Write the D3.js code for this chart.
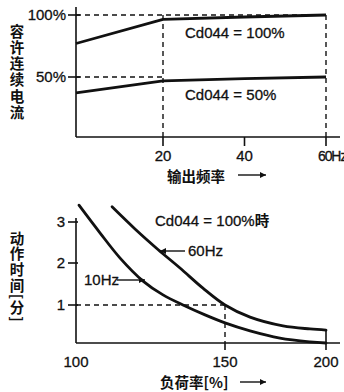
<!DOCTYPE html>
<html><head><meta charset="utf-8">
<script src="https://cdn.jsdelivr.net/npm/d3@7"></script>
<style>
body{margin:0;background:#fff;}
svg{display:block;}
text{fill:#111;}
.lat{font-family:"Liberation Sans",Arial,sans-serif;font-size:15px;stroke:#111;stroke-width:0.3px;}
.cjk{font-family:"Noto Sans CJK SC",sans-serif;font-size:14.5px;font-weight:bold;}
.vert{writing-mode:vertical-rl;}
</style></head><body>
<script>
// ---- Top chart data ----
const freqTicks = [20, 40, 60];
const freqUnit = "Hz";
const pctTicks = [50, 100];
const pctLabels = ["50%", "100%"];
const freq = [0, 20, 40, 60];
const allow100 = [77, 96.5, 98.4, 100];
const allow50 = [36.7, 46.7, 48.6, 50];
const topTitleY = "容许连续电流";
const topTitleX = "输出频率";
const label100 = "Cd044 = 100%";
const label50 = "Cd044 = 50%";

// ---- Bottom chart data ----
const loadTicks = [100, 150, 200];
const timeTicks = [1, 2, 3];
const load10 = [101.0, 108.1, 114.8, 122.5, 129.2, 135.9, 143.3, 150, 162.4, 177.2, 192.1, 200];
const time10 = [3.41, 2.73, 2.12, 1.57, 1.24, 1.0, 0.74, 0.53, 0.32, 0.13, 0.03, 0];
const load60 = [112.1, 119.8, 127.5, 134.9, 142.6, 150, 162.4, 178.7, 192.1, 200];
const time60 = [3.37, 2.83, 2.33, 1.88, 1.40, 1.0, 0.68, 0.45, 0.37, 0.34];
const botTitleY = "动作时间[分]";
const botTitleX = "负荷率[%]";
const labelBot = "Cd044 = 100%";
const labelBotSuffix = "時";
const label60 = "60Hz";
const label10 = "10Hz";

const svg = d3.select("body").append("svg").attr("width", 344).attr("height", 392);
const defs = svg.append("defs");
defs.append("marker").attr("id","ah").attr("viewBox","0 0 10 10").attr("refX",10).attr("refY",5)
  .attr("markerWidth",7).attr("markerHeight",6).attr("markerUnits","userSpaceOnUse").attr("orient","auto")
  .append("path").attr("d","M0,0L10,5L0,10Z").attr("fill","#111");

function arrow(g, x1, y1, x2, y2){
  g.append("line").attr("x1",x1).attr("y1",y1).attr("x2",x2).attr("y2",y2)
    .attr("stroke","#111").attr("stroke-width",1.4).attr("marker-end","url(#ah)");
}
const dash = "5,4";

// ================= TOP CHART =================
const xT = d3.scaleLinear().domain([0, 20, 60]).range([76, 163, 326]);
const yT = d3.scaleLinear().domain([0, 50, 100]).range([137, 77, 15]);
const gT = svg.append("g");

gT.append("line").attr("x1", xT(0)).attr("x2", xT(60)).attr("y1", yT(100)).attr("y2", yT(100))
  .attr("stroke","#111").attr("stroke-width",1.4).attr("stroke-dasharray",dash);
gT.append("line").attr("x1", xT(0)).attr("x2", xT(20)).attr("y1", yT(50)).attr("y2", yT(50))
  .attr("stroke","#111").attr("stroke-width",1.4).attr("stroke-dasharray",dash);
[20, 60].forEach(f => {
  gT.append("line").attr("x1", xT(f)).attr("x2", xT(f)).attr("y1", yT(100)).attr("y2", yT(0))
    .attr("stroke","#111").attr("stroke-width",1.4).attr("stroke-dasharray",dash);
});

gT.append("line").attr("x1", xT(0)).attr("x2", xT(0)).attr("y1", 7).attr("y2", yT(0)).attr("stroke","#111").attr("stroke-width",1.6);
gT.append("line").attr("x1", xT(0)).attr("x2", 340).attr("y1", yT(0)).attr("y2", yT(0)).attr("stroke","#111").attr("stroke-width",1.6);
freqTicks.forEach(f => {
  gT.append("line").attr("x1", xT(f)).attr("x2", xT(f)).attr("y1", yT(0)).attr("y2", yT(0)+9).attr("stroke","#111").attr("stroke-width",1.6);
});
pctTicks.forEach(p => {
  gT.append("line").attr("x1", xT(0)-8).attr("x2", xT(0)+4).attr("y1", yT(p)).attr("y2", yT(p)).attr("stroke","#111").attr("stroke-width",1.6);
});
pctTicks.forEach((p,i) => {
  gT.append("text").attr("class","lat").attr("x", 66).attr("y", yT(p)).attr("dy","0.36em")
    .attr("text-anchor","end").text(pctLabels[i]);
});
freqTicks.forEach((f,i) => {
  if (i < freqTicks.length - 1) {
    gT.append("text").attr("class","lat").attr("x", xT(f)).attr("y", 161).attr("text-anchor","middle").text(f);
  } else {
    gT.append("text").attr("class","lat").attr("x", xT(f) - 8).attr("y", 161)
      .style("letter-spacing","-1.1px").style("font-size","14px").text(f + freqUnit);
  }
});

const lineT = d3.line().x(d => xT(d[0])).y(d => yT(d[1]));
[allow100, allow50].forEach(vals => {
  gT.append("path").attr("d", lineT(freq.map((f,i)=>[f, vals[i]])))
    .attr("fill","none").attr("stroke","#111").attr("stroke-width",2.8).attr("stroke-linejoin","round");
});
gT.append("text").attr("class","lat").attr("x",185).attr("y",38).text(label100);
gT.append("text").attr("class","lat").attr("x",185).attr("y",100).text(label50);

gT.append("text").attr("class","cjk vert").attr("x", 17).attr("y", 24)
  .style("letter-spacing","1.7px").text(topTitleY);
gT.append("text").attr("class","cjk").attr("x",167).attr("y",176).attr("dy","0.38em").text(topTitleX);
arrow(gT, 238, 175, 266, 175);

// ================= BOTTOM CHART =================
const xB = d3.scaleLinear().domain([100, 150, 200]).range([76, 225, 326]);
const yB = d3.scaleLinear().domain([0, 1, 2, 3]).range([343, 305, 263, 222]);
const gB = svg.append("g");

gB.append("line").attr("x1", xB(100)).attr("x2", xB(150)).attr("y1", yB(1)).attr("y2", yB(1))
  .attr("stroke","#111").attr("stroke-width",1.4).attr("stroke-dasharray",dash);
gB.append("line").attr("x1", xB(150)).attr("x2", xB(150)).attr("y1", yB(1)).attr("y2", yB(0))
  .attr("stroke","#111").attr("stroke-width",1.4).attr("stroke-dasharray",dash);

gB.append("line").attr("x1", xB(100)).attr("x2", xB(100)).attr("y1", 218).attr("y2", yB(0)).attr("stroke","#111").attr("stroke-width",1.6);
gB.append("line").attr("x1", xB(100)).attr("x2", 340).attr("y1", yB(0)).attr("y2", yB(0)).attr("stroke","#111").attr("stroke-width",1.6);
loadTicks.slice(1).forEach(l => {
  gB.append("line").attr("x1", xB(l)).attr("x2", xB(l)).attr("y1", yB(0)).attr("y2", yB(0)+7).attr("stroke","#111").attr("stroke-width",1.6);
});
timeTicks.forEach(t => {
  gB.append("line").attr("x1", xB(100)-8).attr("x2", xB(100)+2).attr("y1", yB(t)).attr("y2", yB(t)).attr("stroke","#111").attr("stroke-width",1.6);
  gB.append("text").attr("class","lat").attr("x", 65).attr("y", yB(t)).attr("dy","0.36em").attr("text-anchor","end").text(t);
});
loadTicks.forEach(l => {
  gB.append("text").attr("class","lat").attr("x", xB(l)).attr("y", 367).attr("text-anchor","middle").text(l);
});

const lineB = d3.line().x(d => xB(d[0])).y(d => yB(d[1])).curve(d3.curveCatmullRom.alpha(0.5));
gB.append("path").attr("d", lineB(load10.map((l,i)=>[l, time10[i]])))
  .attr("fill","none").attr("stroke","#111").attr("stroke-width",2.8).attr("stroke-linecap","round");
gB.append("path").attr("d", lineB(load60.map((l,i)=>[l, time60[i]])))
  .attr("fill","none").attr("stroke","#111").attr("stroke-width",2.8).attr("stroke-linecap","round");
const lastL = load60[load60.length-1], lastT = time60[time60.length-1];
gB.append("line").attr("x1", xB(lastL)).attr("x2", xB(lastL)).attr("y1", yB(lastT)).attr("y2", yB(0))
  .attr("stroke","#111").attr("stroke-width",1.6);

const tb = gB.append("text").attr("class","lat").attr("x",155).attr("y",226).text(labelBot);
tb.append("tspan").style("font-family","'Noto Sans CJK JP',sans-serif").style("font-weight","bold").style("font-size","14.5px").style("stroke","none").text(labelBotSuffix);
arrow(gB, 185, 251, 160, 251);
gB.append("text").attr("class","lat").attr("x",188).attr("y",251).attr("dy","0.36em").text(label60);
gB.append("text").attr("class","lat").attr("x",84).attr("y",280).attr("dy","0.36em").text(label10);
arrow(gB, 117, 280, 145, 280);

gB.append("text").attr("class","cjk vert").attr("x", 17).attr("y", 231)
  .style("letter-spacing","1.2px").text(botTitleY);
gB.append("text").attr("class","cjk").attr("x",160).attr("y",382).attr("dy","0.38em").text(botTitleX);
arrow(gB, 240, 382, 266, 382);
</script>
</body></html>
